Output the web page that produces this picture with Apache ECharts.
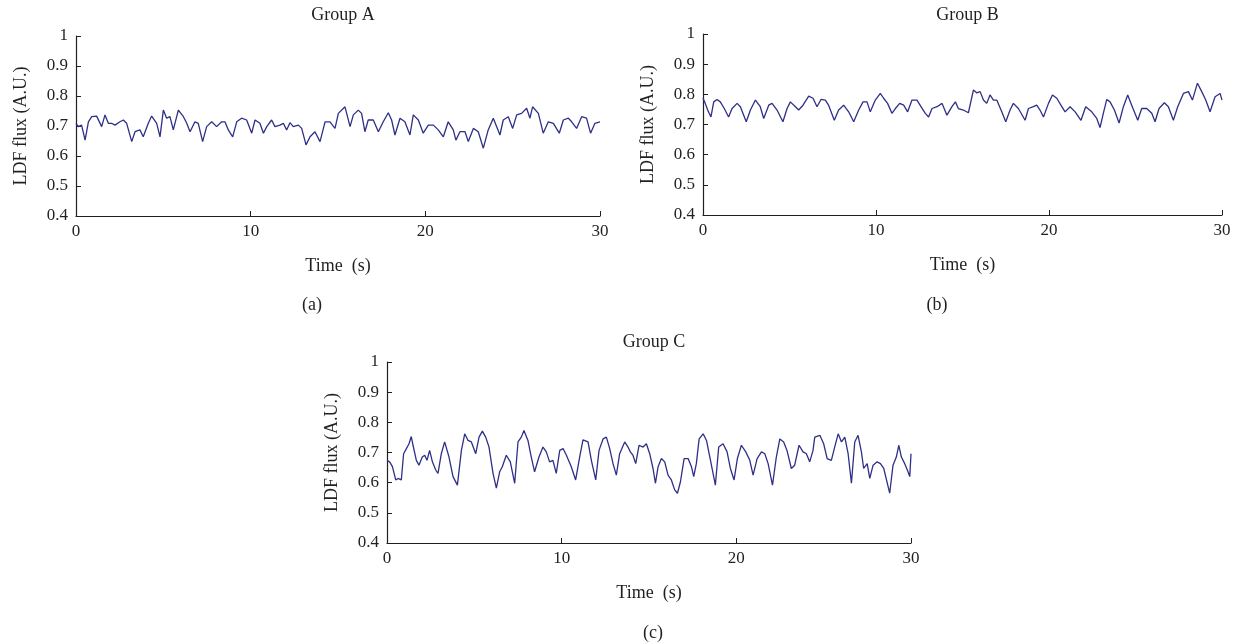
<!DOCTYPE html>
<html>
<head>
<meta charset="utf-8">
<script src="https://cdn.jsdelivr.net/npm/echarts@6/dist/echarts.min.js"></script>
<style>
html,body{margin:0;padding:0;background:#fff;}
#chart{width:1242px;height:643px;}
</style>
</head>
<body>
<div id="chart"></div>
<script>
// ---- Data (time in s, LDF flux in A.U.) ----
const titles = ["Group A", "Group B", "Group C"];
const captions = ["(a)", "(b)", "(c)"];
const yTicks = [0.4, 0.5, 0.6, 0.7, 0.8, 0.9, 1];
const xTicks = [0, 10, 20, 30];

const timeA = [0.00,0.13,0.32,0.52,0.71,0.90,1.18,1.47,1.66,1.85,2.04,2.23,2.52,2.71,2.90,3.19,3.38,3.66,3.85,4.14,4.33,4.62,4.81,5.00,5.19,5.38,5.57,5.86,6.15,6.34,6.53,6.81,7.00,7.25,7.48,7.77,8.05,8.34,8.53,8.72,8.97,9.20,9.48,9.77,10.06,10.25,10.53,10.73,10.92,11.20,11.39,11.68,11.87,12.06,12.25,12.44,12.73,12.92,13.17,13.40,13.68,13.97,14.26,14.54,14.83,15.02,15.40,15.69,15.88,16.16,16.35,16.54,16.73,17.02,17.31,17.59,17.88,18.07,18.26,18.55,18.83,19.12,19.31,19.60,19.88,20.17,20.46,20.74,21.03,21.31,21.60,21.75,21.98,22.27,22.46,22.75,23.03,23.32,23.60,23.89,24.08,24.27,24.46,24.75,25.00,25.23,25.51,25.80,25.99,26.14,26.47,26.75,27.04,27.33,27.67,27.90,28.19,28.38,28.66,28.95,29.23,29.46,29.71,30.00];
const fluxA = [0.709,0.698,0.703,0.653,0.714,0.731,0.733,0.698,0.737,0.709,0.709,0.703,0.714,0.720,0.709,0.648,0.681,0.687,0.664,0.709,0.733,0.709,0.664,0.753,0.726,0.731,0.687,0.753,0.731,0.709,0.681,0.714,0.709,0.648,0.698,0.714,0.698,0.714,0.714,0.687,0.664,0.714,0.726,0.720,0.676,0.720,0.709,0.676,0.698,0.720,0.698,0.703,0.709,0.687,0.711,0.698,0.703,0.692,0.637,0.664,0.681,0.648,0.714,0.714,0.692,0.742,0.764,0.698,0.737,0.753,0.742,0.681,0.720,0.720,0.681,0.714,0.744,0.720,0.670,0.726,0.714,0.670,0.737,0.720,0.676,0.703,0.703,0.687,0.664,0.714,0.687,0.653,0.681,0.681,0.648,0.692,0.681,0.626,0.687,0.726,0.698,0.670,0.720,0.731,0.692,0.737,0.742,0.759,0.726,0.764,0.742,0.676,0.714,0.709,0.676,0.720,0.726,0.714,0.692,0.731,0.726,0.676,0.709,0.714];

const timeB = [0.00,0.13,0.27,0.46,0.62,0.81,1.00,1.23,1.48,1.68,1.97,2.16,2.50,2.74,3.03,3.31,3.51,3.80,3.99,4.28,4.62,4.86,5.05,5.34,5.53,5.78,6.11,6.36,6.59,6.82,7.07,7.26,7.59,7.84,8.13,8.42,8.71,9.00,9.25,9.48,9.67,9.96,10.25,10.44,10.67,10.92,11.12,11.37,11.60,11.83,12.08,12.37,12.60,12.85,13.04,13.24,13.53,13.82,14.10,14.39,14.59,14.76,15.05,15.34,15.63,15.82,16.02,16.21,16.40,16.59,16.79,16.98,17.27,17.50,17.75,17.94,18.23,18.62,18.81,19.10,19.29,19.48,19.68,19.97,20.20,20.45,20.74,20.93,21.22,21.51,21.85,22.12,22.47,22.76,22.95,23.14,23.34,23.53,23.78,24.05,24.30,24.55,24.78,25.13,25.36,25.65,25.94,26.13,26.36,26.67,26.90,27.19,27.44,27.77,28.06,28.29,28.58,28.83,29.06,29.31,29.60,29.89,30.00];
const fluxB = [0.787,0.770,0.748,0.725,0.775,0.783,0.775,0.753,0.725,0.753,0.770,0.759,0.709,0.748,0.781,0.759,0.720,0.764,0.770,0.748,0.709,0.753,0.775,0.759,0.748,0.764,0.794,0.787,0.759,0.783,0.781,0.764,0.714,0.748,0.764,0.742,0.709,0.748,0.775,0.775,0.742,0.781,0.803,0.787,0.770,0.737,0.753,0.770,0.764,0.742,0.781,0.781,0.759,0.737,0.725,0.753,0.759,0.770,0.731,0.759,0.775,0.753,0.748,0.739,0.814,0.805,0.809,0.781,0.770,0.798,0.781,0.781,0.742,0.709,0.748,0.770,0.753,0.714,0.753,0.759,0.764,0.748,0.725,0.770,0.798,0.787,0.759,0.742,0.759,0.742,0.714,0.759,0.742,0.720,0.690,0.737,0.783,0.775,0.748,0.705,0.759,0.798,0.764,0.714,0.753,0.753,0.737,0.709,0.753,0.772,0.759,0.714,0.759,0.803,0.809,0.781,0.837,0.809,0.781,0.742,0.792,0.803,0.781];

const timeC = [0.00,0.15,0.31,0.50,0.63,0.82,0.95,1.11,1.26,1.39,1.49,1.68,1.83,2.02,2.16,2.29,2.44,2.60,2.79,2.92,3.11,3.30,3.55,3.78,4.03,4.26,4.45,4.64,4.83,5.08,5.27,5.46,5.65,5.84,6.07,6.26,6.45,6.60,6.83,7.06,7.31,7.50,7.69,7.84,8.07,8.26,8.45,8.70,8.93,9.12,9.31,9.50,9.69,9.89,10.08,10.27,10.55,10.80,11.03,11.22,11.51,11.70,11.95,12.14,12.37,12.56,12.75,12.94,13.13,13.32,13.61,13.80,13.93,14.08,14.24,14.43,14.66,14.85,15.04,15.23,15.37,15.52,15.71,15.90,16.09,16.28,16.47,16.63,16.80,17.01,17.24,17.43,17.56,17.71,17.87,18.10,18.29,18.52,18.80,18.99,19.24,19.47,19.66,19.87,20.06,20.29,20.54,20.77,20.96,21.19,21.44,21.63,21.82,22.07,22.29,22.49,22.71,22.90,23.15,23.34,23.59,23.82,24.01,24.20,24.39,24.49,24.78,25.00,25.20,25.44,25.63,25.83,26.02,26.21,26.40,26.59,26.78,26.97,27.16,27.29,27.49,27.64,27.83,28.06,28.25,28.44,28.69,28.78,28.97,29.16,29.30,29.45,29.64,29.83,29.93,30.00];
const fluxC = [0.674,0.669,0.653,0.609,0.614,0.609,0.696,0.713,0.729,0.753,0.724,0.674,0.658,0.685,0.691,0.674,0.707,0.669,0.642,0.631,0.696,0.735,0.685,0.620,0.592,0.707,0.762,0.740,0.735,0.696,0.751,0.771,0.751,0.718,0.631,0.582,0.636,0.653,0.691,0.669,0.598,0.735,0.751,0.773,0.740,0.685,0.636,0.685,0.718,0.702,0.669,0.674,0.631,0.707,0.713,0.691,0.653,0.609,0.685,0.742,0.735,0.674,0.609,0.707,0.745,0.751,0.713,0.663,0.625,0.696,0.735,0.718,0.702,0.691,0.663,0.724,0.718,0.729,0.696,0.647,0.598,0.653,0.680,0.669,0.625,0.609,0.576,0.565,0.603,0.680,0.680,0.653,0.620,0.663,0.745,0.762,0.740,0.674,0.592,0.718,0.729,0.702,0.647,0.609,0.680,0.724,0.702,0.674,0.625,0.680,0.702,0.696,0.663,0.592,0.685,0.745,0.735,0.707,0.647,0.658,0.724,0.702,0.696,0.669,0.707,0.751,0.757,0.729,0.680,0.674,0.718,0.762,0.735,0.751,0.696,0.598,0.735,0.757,0.702,0.647,0.663,0.614,0.658,0.669,0.663,0.647,0.587,0.565,0.658,0.685,0.724,0.685,0.663,0.636,0.620,0.696];

// ---- Build chart ----
const FONT = '"Liberation Serif", "DejaVu Serif", serif';
const TXT = '#231f20';
const LINE = '#2e2f86';

const grids = [
  {left: 76, top: 36, width: 524, height: 180},
  {left: 703, top: 34, width: 519, height: 181},
  {left: 387, top: 362, width: 524, height: 181}
];
const times = [timeA, timeB, timeC];
const fluxes = [fluxA, fluxB, fluxC];

function pairs(t, v) { return t.map((x, i) => [x, v[i]]); }

const titleComps = [];
grids.forEach((g, i) => {
  const cx = g.left + g.width / 2;
  titleComps.push({
    text: titles[i], left: cx, top: (i === 2 ? 328 : 1), textAlign: 'center',
    textStyle: {fontFamily: FONT, fontSize: 18, fontWeight: 'normal', color: TXT}
  });
});
const capPos = [[307, 291], [932, 291], [648, 619]];
captions.forEach((c, i) => {
  titleComps.push({
    text: c, left: capPos[i][0], top: capPos[i][1], textAlign: 'center',
    textStyle: {fontFamily: FONT, fontSize: 18, fontWeight: 'normal', color: TXT}
  });
});

const option = {
  animation: false,
  backgroundColor: '#ffffff',
  title: titleComps,
  grid: grids.map(g => Object.assign({containLabel: false}, g)),
  xAxis: grids.map((g, i) => ({
    gridIndex: i, type: 'value', min: xTicks[0], max: xTicks[xTicks.length - 1], interval: 10,
    name: 'Time  (s)', nameLocation: 'middle', nameGap: 41,
    nameTextStyle: {fontFamily: FONT, fontSize: 18, color: TXT},
    axisLine: {show: true, onZero: false, lineStyle: {color: '#231f20', width: 1.2}},
    axisTick: {show: true, inside: true, length: 5, lineStyle: {color: '#231f20'}},
    axisLabel: {fontFamily: FONT, fontSize: 17, color: TXT, margin: 7},
    splitLine: {show: false}
  })),
  yAxis: grids.map((g, i) => ({
    gridIndex: i, type: 'value', min: yTicks[0], max: yTicks[yTicks.length - 1], interval: 0.1,
    name: 'LDF flux (A.U.)', nameLocation: 'middle', nameGap: 46,
    nameTextStyle: {fontFamily: FONT, fontSize: 18, color: TXT},
    axisLine: {show: true, onZero: false, lineStyle: {color: '#231f20', width: 1.2}},
    axisTick: {show: true, inside: true, length: 5, lineStyle: {color: '#231f20'}},
    axisLabel: {fontFamily: FONT, fontSize: 17, color: TXT, margin: 8,
      formatter: v => (Math.round(v * 10) / 10).toString()},
    splitLine: {show: false}
  })),
  series: grids.map((g, i) => ({
    type: 'line', xAxisIndex: i, yAxisIndex: i,
    data: pairs(times[i], fluxes[i]),
    showSymbol: false, symbol: 'none',
    lineStyle: {color: LINE, width: 1.3},
    silent: true
  }))
};

echarts.init(document.getElementById('chart')).setOption(option);
</script>
</body>
</html>
